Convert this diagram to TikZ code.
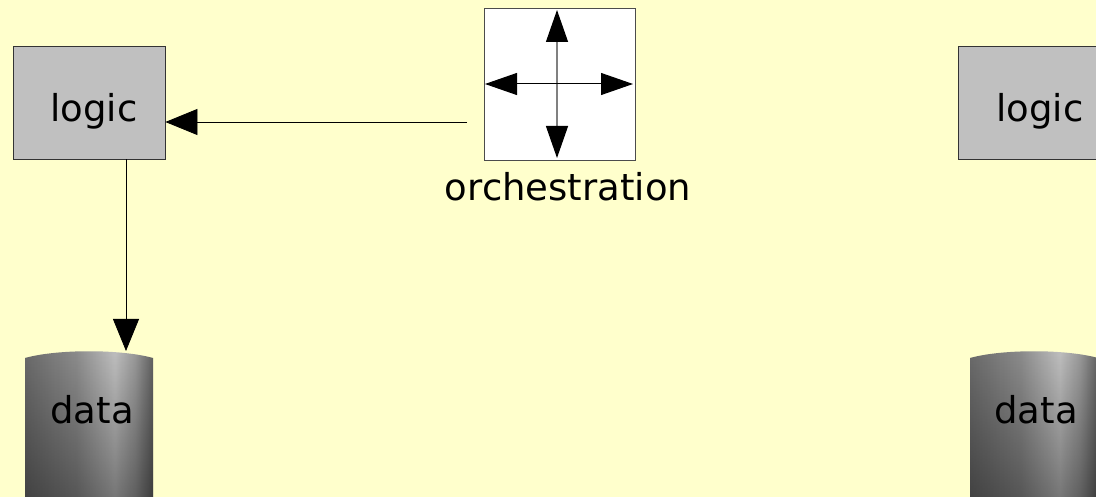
\documentclass[tikz,border=0pt]{standalone}
\usepackage{fontspec}
\setmainfont{DejaVu Sans}
\usetikzlibrary{arrows.meta,fadings}
\pgfdeclarehorizontalshading{cylshade}{100bp}{
  color(0bp)=(black!58); color(25bp)=(black!58); color(45bp)=(black!45);
  color(60bp)=(black!25); color(68bp)=(black!40); color(75bp)=(black!62); color(100bp)=(black!62)}
\definecolor{bg}{HTML}{FFFFCC}
\definecolor{boxgray}{HTML}{C0C0C0}
\tikzset{
  logicbox/.style={draw=black!80, line width=0.8pt, fill=boxgray, minimum width=152pt, minimum height=113pt, inner sep=0pt},
  lbl/.style={inner sep=0pt, font=\fontsize{37}{40}\selectfont},
  bigarrow/.style={-{Triangle[length=32pt,width=26pt]}, line width=0.8pt},
  orcharrow/.style={{Triangle[length=32pt,width=22pt,fill=black,color=black]}-{Triangle[length=32pt,width=22pt,fill=black,color=black]}, line width=1pt},
}
\newcommand{\cylinderdraw}[3]{% left x, top y, width
  \shade[shading=cylshade] (#1,#2+8) .. controls (#1+#3*0.25,#2-1) and (#1+#3*0.75,#2-1) .. (#1+#3,#2+8) -- (#1+#3,505) -- (#1,505) -- cycle;
  \fill[black, fill opacity=0.4, path fading=north] (#1,#2+8) .. controls (#1+#3*0.25,#2-1) and (#1+#3*0.75,#2-1) .. (#1+#3,#2+8) -- (#1+#3,505) -- (#1,505) -- cycle;
}
\begin{document}
\begin{tikzpicture}[x=1pt,y=-1pt]
\fill[bg] (0,0) rectangle (1096,497);
\useasboundingbox (0,0) rectangle (1096,497);
% cylinders
\cylinderdraw{25}{350}{128}
\cylinderdraw{970}{350}{128}
\coordinate (dtop) at (126,351);
\node[lbl] (data1) at (92,410) {data};
\node[lbl] (data2) at (1036,410) {data};
% logic boxes
\node[logicbox] (logic1) at (89,102.5) {};
\node[logicbox] (logic2) at (1034,102.5) {};
\node[lbl] (logictext1) at (94,111) {logic};
\node[lbl] (logictext2) at (1040,111) {logic};
% orchestration
\node[draw=black!70, line width=0.8pt, fill=white, minimum width=151pt, minimum height=152pt, inner sep=0pt] (orch) at (559.5,84) {};
\coordinate (otop) at (557,10);
\coordinate (obot) at (557,158);
\coordinate (oleft) at (485,84);
\coordinate (oright) at (633,84);
\draw[orcharrow, draw=black!50, line width=1.3pt] (obot) -- (otop);
\draw[orcharrow] (oleft) -- (oright);
\node[lbl] (orchlabel) at (568,187) {orchestration};
\coordinate (ostart) at (467,122);
% connectors
\draw[bigarrow] (ostart) -- (ostart -| logic1.east);
\draw[bigarrow] (logic1.south -| dtop) -- (dtop);
\end{tikzpicture}
\end{document}
